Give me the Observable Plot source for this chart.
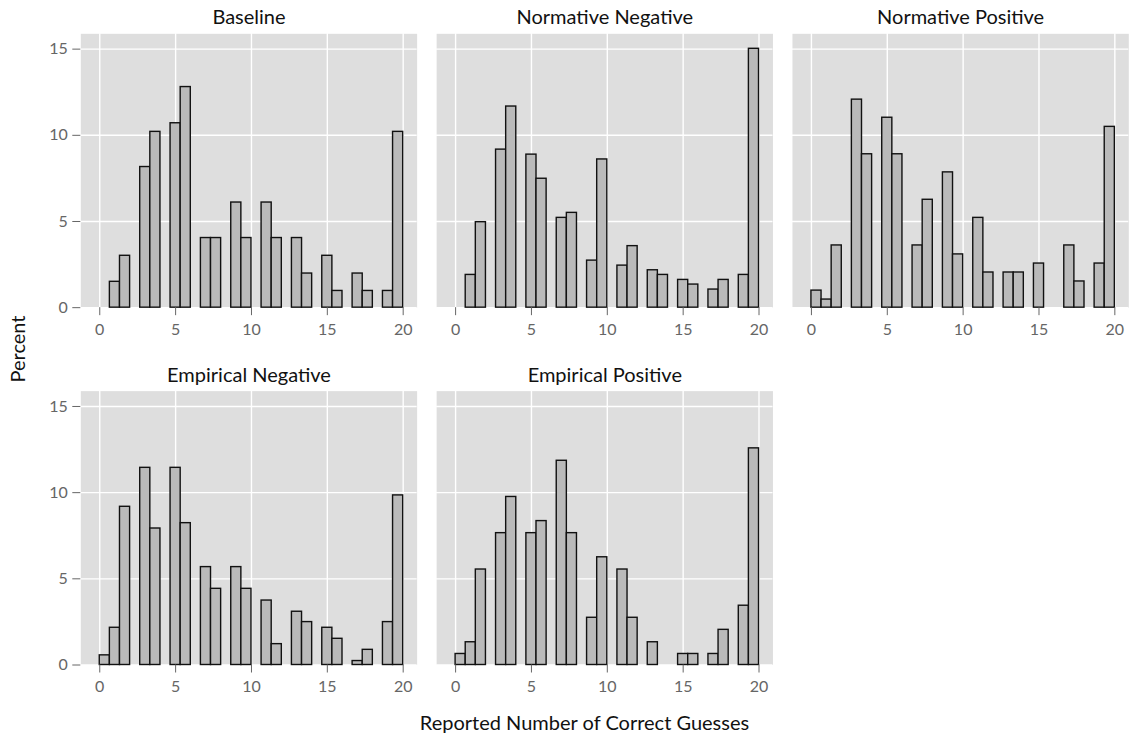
<!DOCTYPE html>
<html>
<head>
<meta charset="utf-8">
<script src="https://cdn.jsdelivr.net/npm/d3@7"></script>
<script src="https://cdn.jsdelivr.net/npm/@observablehq/plot@0.6"></script>
<style>
  body { margin: 0; background: #ffffff; }
  #chart { width: 1130px; height: 736px; }
</style>
</head>
<body>
<div id="chart"></div>
<script>
// ---- Data (percent of respondents by reported number of correct guesses) ----
const panelNames = ["Baseline", "Normative Negative", "Normative Positive", "Empirical Negative", "Empirical Positive"];
const guesses = [0, 1, 2, 3, 4, 5, 6, 7, 8, 9, 10, 11, 12, 13, 14, 15, 16, 17, 18, 19, 20];
const baseline          = [0, 1.50, 3.01, 8.16, 10.2, 10.7, 12.8, 4.04, 4.04, 6.10, 4.04, 6.10, 4.04, 4.04, 1.98, 3.01, 0.97, 1.98, 0.97, 0.97, 10.2];
const normativeNegative = [0, 1.90, 4.96, 9.17, 11.67, 8.88, 7.48, 5.21, 5.50, 2.73, 8.60, 2.44, 3.57, 2.17, 1.90, 1.61, 1.34, 1.05, 1.61, 1.90, 15.02];
const normativePositive = [0.99, 0.47, 3.61, 12.07, 8.90, 11.02, 8.90, 3.61, 6.26, 7.85, 3.09, 5.21, 2.04, 2.04, 2.04, 2.56, 0, 3.61, 1.52, 2.56, 10.49];
const empiricalNegative = [0.56, 2.16, 9.18, 11.44, 7.92, 11.44, 8.23, 5.68, 4.42, 5.68, 4.42, 3.74, 1.21, 3.09, 2.49, 2.16, 1.52, 0.23, 0.88, 2.49, 9.84];
const empiricalPositive = [0.64, 1.32, 5.54, 7.65, 9.75, 7.65, 8.35, 11.85, 7.65, 2.74, 6.25, 5.54, 2.74, 1.32, 0, 0.64, 0.64, 0.64, 2.04, 3.44, 12.57];
const xTicks = [0, 5, 10, 15, 20];
const yTicks = [0, 5, 10, 15];

const seriesList = [baseline, normativeNegative, normativePositive, empiricalNegative, empiricalPositive];

// 30 histogram bins over [0, 20], right-closed (lowest bin includes 0)
const binWidth = 20 / 30;
const rows = [];
panelNames.forEach((name, i) => {
  seriesList[i].forEach((pct, j) => {
    const v = guesses[j];
    if (pct > 0) {
      const k = v === 0 ? 0 : Math.ceil(v / binWidth) - 1;
      rows.push({panel: name, col: i % 3, row: Math.floor(i / 3), guesses: v, pct, x1: k * binWidth, x2: (k + 1) * binWidth});
    }
  });
});
const titles = panelNames.map((name, i) => ({name, col: i % 3, row: Math.floor(i / 3)}));

const chart = Plot.plot({
  width: 1130,
  height: 736,
  marginTop: 33.3,
  marginBottom: 71.5,
  marginLeft: 80.3,
  marginRight: 1.7,
  style: {fontFamily: "Lato, sans-serif", background: "white", overflow: "visible"},
  fx: {domain: [0, 1, 2], axis: null, paddingInner: 0.0548, paddingOuter: 0, round: false},
  fy: {domain: [0, 1], axis: null, paddingInner: 0.2336, paddingOuter: 0, round: false},
  x: {domain: [-1.25, 20.92]},
  y: {domain: [0, 15.89]},
  marks: [
    Plot.frame({fill: "#DEDEDE"}),
    Plot.gridX({ticks: xTicks, stroke: "white", strokeOpacity: 1, strokeWidth: 1.4}),
    Plot.gridY({ticks: yTicks, stroke: "white", strokeOpacity: 1, strokeWidth: 1.4}),
    Plot.rectY(rows, {x1: "x1", x2: "x2", y: "pct", fx: "col", fy: "row", fill: "#BABABA", stroke: "#111", strokeWidth: 1.4}),
    Plot.axisX({ticks: xTicks, tickSize: 8, tickPadding: 8, fontSize: 16, color: "#666", label: null, facetAnchor: null}),
    Plot.axisY({ticks: yTicks, tickSize: 8, tickPadding: 5, fontSize: 16, color: "#666", label: null, facetAnchor: "left"}),
    Plot.text(titles, {fx: "col", fy: "row", text: "name", frameAnchor: "top", dy: -16, lineAnchor: "middle", fontSize: 20, fill: "#111"})
  ]
});

const svg = d3.select(chart);
svg.append("text")
  .attr("x", 584.5).attr("y", 730)
  .attr("text-anchor", "middle")
  .attr("font-size", 20).attr("fill", "#111")
  .text("Reported Number of Correct Guesses");
svg.append("text")
  .attr("transform", "translate(25,349) rotate(-90)")
  .attr("text-anchor", "middle")
  .attr("font-size", 20).attr("fill", "#111")
  .text("Percent");

document.getElementById("chart").appendChild(chart);
</script>
</body>
</html>
